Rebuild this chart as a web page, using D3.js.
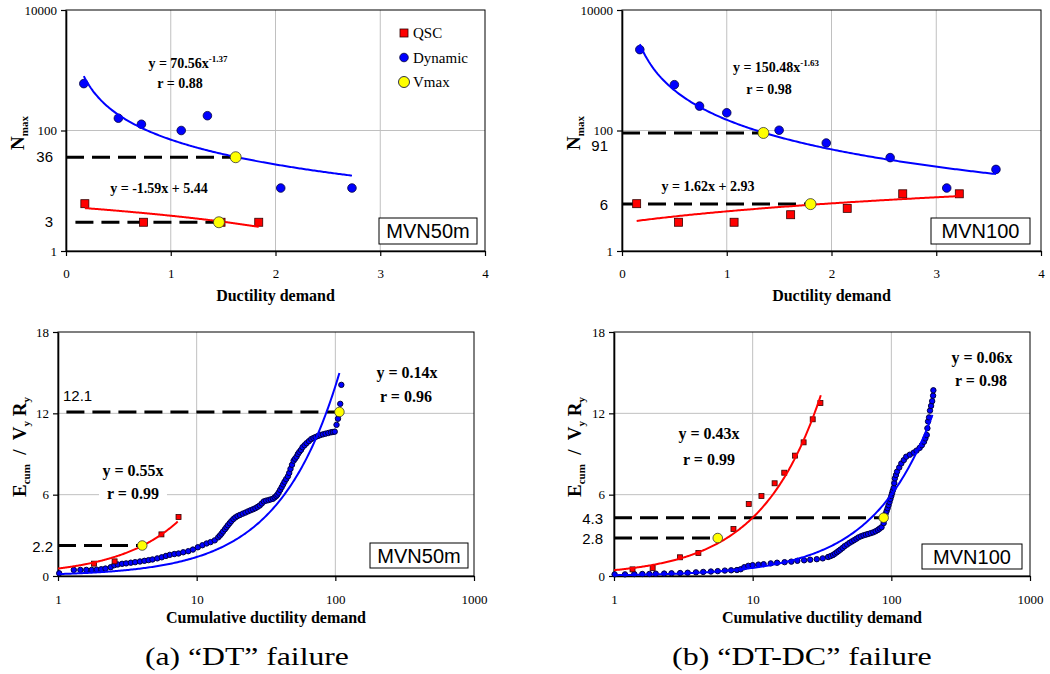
<!DOCTYPE html>
<html>
<head>
<meta charset="utf-8">
<script src="https://cdn.jsdelivr.net/npm/d3@7"></script>
<style>
body { margin: 0; background: #fff; }
svg text { font-family: "Liberation Serif", "Times New Roman", serif; }
</style>
</head>
<body>
<div id="container"></div>
<script>
// ---- tick values ----
var topXTicks = [0, 1, 2, 3, 4];
var topYTicks = [1, 100, 10000];
var botXTicks = [1, 10, 100, 1000];
var botYTicks = [0, 6, 12, 18];

// ---- (a) top : MVN50m ----
var aQscX = [0.18, 0.74, 1.48, 1.84];
var aQscY = [6.1, 3.0, 3.0, 3.0];
var aDynX = [0.17, 0.5, 0.72, 1.1, 1.35, 2.05, 2.73];
var aDynY = [600, 160, 127, 100, 176, 11.1, 11.1];
var aVmaxX = [1.62, 1.46];
var aVmaxY = [36, 3];
var aRefX0 = [0, 0.09];
var aRefLabels = ['36', '3'];

// ---- (b) top : MVN100 ----
var bQscX = [0.14, 0.54, 1.07, 1.61, 2.15, 2.68, 3.22];
var bQscY = [6.1, 3.0, 3.0, 4.0, 5.1, 8.9, 8.9];
var bDynX = [0.17, 0.5, 0.74, 1.0, 1.5, 1.95, 2.56, 3.1, 3.57];
var bDynY = [2200, 576, 254, 197, 101, 62, 35.5, 11.1, 22.6];
var bVmaxX = [1.35, 1.8];
var bVmaxY = [91, 6];
var bRefX0 = [0, 0];
var bRefLabels = ['91', '6'];

// ---- (a) bottom : MVN50m ----
var cQscX = [1.82, 2.56, 5.57, 7.4];
var cQscY = [0.91, 1.08, 3.07, 4.35];
var cDynX = [1.02, 1.3, 1.45, 1.6, 1.75, 1.9, 2.05, 2.2, 2.4, 2.55, 2.7, 2.9, 3.1, 3.35, 3.6, 3.9,
  4.2, 4.5, 4.8, 5.2, 5.6, 6.0, 6.4, 6.9, 7.4, 8.0, 8.7, 9.4, 10.2, 11.0, 11.8, 12.6, 13.5, 14.3,
  14.7, 15.1, 15.5, 16.0, 16.4, 16.8, 17.3, 17.8, 18.4, 19.0, 19.7, 20.5, 21.5, 22.5, 23.5, 24.5,
  25.5, 26.5, 27.5, 28.5, 29.5, 30.5, 31.7, 33.0, 34.2, 35.5, 36.5, 37.5, 38.2, 39.0, 40.0, 41.0,
  42.0, 43.0, 44.2, 45.5, 46.5, 47.5, 48.7, 50.0, 51.2, 52.5, 53.7, 55.0, 56.5, 58.0, 60.0, 62.0,
  64.5, 67.0, 69.5, 72.0, 75.0, 78.0, 81.5, 85.0, 89.0, 93.0, 96.0, 99.0, 102.0, 104.5,
  106.5, 108.5, 110.5];
var cDynY = [0.2, 0.45, 0.45, 0.45, 0.45, 0.47, 0.5, 0.55, 0.65, 0.8, 0.85, 0.9, 0.93, 0.98, 1.02, 1.07,
  1.12, 1.17, 1.22, 1.3, 1.38, 1.48, 1.56, 1.62, 1.66, 1.75, 1.83, 1.95, 2.12, 2.27, 2.4, 2.5, 2.63, 2.85,
  2.98, 3.12, 3.28, 3.45, 3.6, 3.74, 3.9, 4.05, 4.2, 4.32, 4.42, 4.5, 4.6, 4.68, 4.77, 4.85,
  4.92, 5.0, 5.1, 5.2, 5.35, 5.5, 5.56, 5.6, 5.65, 5.7, 5.8, 5.9, 6.0, 6.15, 6.35, 6.55,
  6.75, 6.95, 7.15, 7.35, 7.6, 7.9, 8.2, 8.5, 8.65, 8.8, 9.0, 9.15, 9.3, 9.5, 9.65, 9.8,
  9.95, 10.1, 10.18, 10.25, 10.33, 10.4, 10.45, 10.5, 10.55, 10.6, 10.62, 10.65, 11.15, 11.6,
  12.1, 12.7, 14.1];
var cVmaxX = [4.05, 107];
var cVmaxY = [2.25, 12.1];
var cRefX0 = [1, 1.15];
var cRefLabels = ['2.2', '12.1'];

// ---- (b) bottom : MVN100 ----
var dQscX = [1.36, 1.9, 2.99, 4.06, 7.27, 9.37, 11.57, 14.4, 16.9, 20.2, 23.3, 27.1, 30.8];
var dQscY = [0.49, 0.59, 1.38, 1.7, 3.47, 5.31, 5.9, 6.84, 7.62, 8.88, 9.86, 11.56, 12.76];
var dDynX = [1.01, 1.2, 1.4, 1.6, 1.8, 2.0, 2.3, 2.6, 3.0, 3.4, 3.9, 4.4, 5.0, 5.6, 6.3, 7.0, 7.7,
  8.2, 8.7, 9.3, 10.0, 11.0, 12.0, 13.5, 15.0, 17.0, 19.0, 21.0, 23.5, 26.0, 29.0, 32.0, 35.0,
  36.5, 38.0, 39.2, 40.5, 41.7, 43.0, 44.5, 46.0, 48.0, 50.0, 52.0, 54.0, 56.0, 58.0, 60.5, 63.0,
  65.5, 68.0, 71.0, 74.0, 77.0, 80.0, 82.5, 85.0, 88.0, 89.5, 91.0, 92.5, 94.0, 95.5, 97.0,
  98.5, 100.0, 101.2, 102.5, 104.0, 105.0, 106.0, 108.0, 110.0, 114.0, 118.0, 123.0, 128.0, 136.0,
  145.0, 152.0, 160.0, 166.0, 172.0, 176.0, 180.0, 182.0, 184.0, 187.0, 190.0,
  193.5, 197.0, 200.0, 201.0];
var dDynY = [0.12, 0.12, 0.14, 0.15, 0.15, 0.17, 0.18, 0.2, 0.22, 0.24, 0.27, 0.3, 0.33, 0.36, 0.4, 0.42, 0.44,
  0.5, 0.65, 0.75, 0.8, 0.84, 0.87, 0.93, 0.98, 1.02, 1.06, 1.12, 1.16, 1.2, 1.24, 1.3, 1.4,
  1.47, 1.55, 1.65, 1.75, 1.85, 1.95, 2.07, 2.2, 2.32, 2.45, 2.55, 2.65, 2.75, 2.85, 2.93, 3.0,
  3.05, 3.1, 3.16, 3.22, 3.3, 3.4, 3.5, 3.6, 3.9, 4.2, 4.6, 4.8, 5.0, 5.22, 5.45,
  5.68, 5.9, 6.1, 6.3, 6.5, 6.85, 7.2, 7.45, 7.7, 8.0, 8.3, 8.55, 8.8, 8.95,
  9.1, 9.25, 9.45, 9.65, 9.9, 10.15, 10.4, 10.9, 11.4, 11.7, 12.2,
  12.55, 12.9, 13.3, 13.7];
var dVmaxX = [5.6, 88];
var dVmaxY = [2.8, 4.3];
var dRefX0 = [1, 1];
var dRefLabels = ['2.8', '4.3'];

var captions = ['(a) \u201CDT\u201D failure', '(b) \u201CDT-DC\u201D failure'];

var W = 1050, H = 674;
var svg = d3.select('#container').append('svg')
  .attr('width', W).attr('height', H);

function mkPts(xs, ys) {
  return xs.map(function (x, i) { return {x: x, y: ys[i]}; });
}

function drawPanel(p) {
  var x = p.xLog ? d3.scaleLog().domain(p.xDom).range([p.left, p.right])
                 : d3.scaleLinear().domain(p.xDom).range([p.left, p.right]);
  var y = p.yLog ? d3.scaleLog().domain(p.yDom).range([p.bottom, p.top])
                 : d3.scaleLinear().domain(p.yDom).range([p.bottom, p.top]);
  var g = svg.append('g');

  // grid
  g.selectAll('.vg').data(p.xGrid).enter().append('line')
    .attr('x1', function (d) { return x(d); }).attr('x2', function (d) { return x(d); })
    .attr('y1', p.top).attr('y2', p.bottom)
    .attr('stroke', '#c0c0c0').attr('stroke-width', 1);
  g.selectAll('.hg').data(p.yGrid).enter().append('line')
    .attr('y1', function (d) { return y(d); }).attr('y2', function (d) { return y(d); })
    .attr('x1', p.left).attr('x2', p.right)
    .attr('stroke', '#c0c0c0').attr('stroke-width', 1);

  g.append('rect')
    .attr('x', p.left).attr('y', p.top)
    .attr('width', p.right - p.left).attr('height', p.bottom - p.top)
    .attr('fill', 'none').attr('stroke', '#000').attr('stroke-width', 1);

  // axes
  var ax = g.append('g').attr('transform', 'translate(0,' + p.bottom + ')')
    .call(d3.axisBottom(x).tickValues(p.xTicks).tickSize(5).tickSizeOuter(0).tickFormat(d3.format('d')));
  var ay = g.append('g').attr('transform', 'translate(' + p.left + ',0)')
    .call(d3.axisLeft(y).tickValues(p.yTicks).tickSize(5).tickSizeOuter(0).tickFormat(d3.format('d')));
  [ax, ay].forEach(function (a) {
    a.select('.domain').attr('stroke', '#000').attr('stroke-width', 1.6);
    a.selectAll('.tick line').attr('stroke', '#000').attr('stroke-width', 1.2);
    a.selectAll('.tick text').attr('fill', '#000')
      .style('font-family', '"Liberation Serif", serif').style('font-size', '13px');
  });
  ax.selectAll('.tick text').attr('dy', '0').attr('y', p.xTickY);
  ay.selectAll('.tick text').attr('x', -9);

  // annotations (white boxes)
  p.notes.forEach(function (n) {
    var t = g.append('text').attr('x', n.x).attr('y', n.y)
      .attr('text-anchor', 'middle').attr('font-weight', 'bold')
      .attr('font-size', p.noteSize + 'px');
    t.append('tspan').text(n.t);
    if (n.sup) t.append('tspan').attr('dy', -6).attr('font-size', (p.noteSize - 5) + 'px').text(n.sup);
    if (p.noteBg) {
      var b = t.node().getBBox();
      g.insert('rect', function () { return t.node(); })
        .attr('x', b.x - 8).attr('y', b.y + 1).attr('width', b.width + 16).attr('height', b.height - 2)
        .attr('fill', '#fff');
    }
  });

  // dashed reference lines
  var refs = p.vmaxX.map(function (vx, i) { return {x0: p.refX0[i], x1: vx, y: p.vmaxY[i], lab: p.refLabels[i]}; });
  g.selectAll('.ref').data(refs).enter().append('line')
    .attr('x1', function (d) { return x(d.x0); }).attr('x2', function (d) { return x(d.x1); })
    .attr('y1', function (d) { return y(d.y); }).attr('y2', function (d) { return y(d.y); })
    .attr('stroke', '#000').attr('stroke-width', 3).attr('stroke-dasharray', '18,8');
  refs.forEach(function (d, i) {
    var lp = p.refLabPos[i];
    g.append('text').attr('x', lp[0]).attr('y', y(d.y) + lp[1])
      .attr('text-anchor', lp[2])
      .style('font-family', '"Liberation Sans", Arial, sans-serif').style('font-size', '15px')
      .text(d.lab);
  });

  // points
  var q = mkPts(p.qscX, p.qscY), dyn = mkPts(p.dynX, p.dynY);
  g.selectAll('.dyn').data(dyn).enter().append('circle')
    .attr('cx', function (d) { return x(d.x); }).attr('cy', function (d) { return y(d.y); })
    .attr('r', p.dynR).attr('fill', '#0000ff').attr('stroke', '#000040').attr('stroke-width', p.dynSw);
  g.selectAll('.qsc').data(q).enter().append('rect')
    .attr('x', function (d) { return x(d.x) - p.sq / 2; }).attr('y', function (d) { return y(d.y) - p.sq / 2; })
    .attr('width', p.sq).attr('height', p.sq)
    .attr('fill', '#ff0000').attr('stroke', '#330000').attr('stroke-width', 0.8);

  // fitted curves
  p.fits.forEach(function (f) {
    var xs = p.xLog ? d3.range(0, 201).map(function (i) { return f.r[0] * Math.pow(f.r[1] / f.r[0], i / 200); })
                    : d3.range(0, 201).map(function (i) { return f.r[0] + (f.r[1] - f.r[0]) * i / 200; });
    var line = d3.line().x(function (v) { return x(v); }).y(function (v) { return y(f.fn(v)); });
    g.append('path').datum(xs).attr('d', line)
      .attr('fill', 'none').attr('stroke', f.c).attr('stroke-width', 2);
  });

  // Vmax
  g.selectAll('.vmax').data(mkPts(p.vmaxX, p.vmaxY)).enter().append('circle')
    .attr('cx', function (d) { return x(d.x); }).attr('cy', function (d) { return y(d.y); })
    .attr('r', p.vR).attr('fill', '#ffff00').attr('stroke', '#333').attr('stroke-width', 0.8);

  // label box
  g.append('rect').attr('x', p.box[0]).attr('y', p.box[1]).attr('width', p.box[2]).attr('height', p.box[3])
    .attr('fill', '#fff').attr('stroke', '#000').attr('stroke-width', 1);
  g.append('text').attr('x', p.box[0] + p.box[2] / 2).attr('y', p.box[1] + p.box[3] / 2 + 7)
    .attr('text-anchor', 'middle')
    .style('font-family', '"Liberation Sans", Arial, sans-serif').style('font-size', '20px')
    .text(p.boxText);

  // axis titles
  g.append('text').attr('x', (p.left + p.right) / 2).attr('y', p.xTitleY)
    .attr('text-anchor', 'middle').attr('font-weight', 'bold').attr('font-size', p.xTitleSize + 'px')
    .text(p.xTitle);
  var yt = g.append('text').attr('transform', 'translate(' + p.yTitlePos[0] + ',' + p.yTitlePos[1] + ') rotate(-90)')
    .attr('text-anchor', 'middle').attr('font-weight', 'bold').style('white-space', 'pre');
  p.yTitle.forEach(function (s) {
    yt.append('tspan').attr('font-size', s[1] ? '11px' : '19px')
      .attr('dy', s[2]).text(s[0]);
  });

  return {x: x, y: y, g: g};
}

var nTitle = [['N', 0, 0], ['max', 1, 4]];
var eTitle = [['E', 0, 0], ['cum', 1, 4], ['  /  V', 0, -4], ['y', 1, 4], [' R', 0, -4], ['y', 1, 4]];

var A = drawPanel({
  left: 66, right: 485, top: 10, bottom: 251, xLog: false, yLog: true,
  xDom: [0, 4], yDom: [1, 10000], xTicks: topXTicks, yTicks: topYTicks,
  xGrid: [1, 2, 3], yGrid: [100], xTickY: 27,
  qscX: aQscX, qscY: aQscY, dynX: aDynX, dynY: aDynY, vmaxX: aVmaxX, vmaxY: aVmaxY,
  refX0: aRefX0, refLabels: aRefLabels, refLabPos: [[53, 5, 'end'], [53, 5, 'end']],
  dynR: 4.3, dynSw: 0.8, sq: 8, vR: 5.5,
  fits: [
    {c: '#0000ff', r: [0.17, 2.73], fn: function (v) { return 70.56 * Math.pow(v, -1.37); }},
    {c: '#ff0000', r: [0.18, 1.84], fn: function (v) { return -1.59 * v + 5.44; }}
  ],
  notes: [{x: 188, y: 68, t: 'y = 70.56x', sup: '-1.37'}, {x: 180, y: 88, t: 'r = 0.88'},
          {x: 159, y: 193, t: 'y = -1.59x + 5.44'}],
  noteSize: 14, noteBg: false,
  box: [379, 218, 98, 26], boxText: 'MVN50m',
  xTitle: 'Ductility demand', xTitleY: 301, xTitleSize: 16,
  yTitle: nTitle, yTitlePos: [24, 133]
});

// legend in panel (a)
var legItems = [['QSC', 'sq', '#ff0000'], ['Dynamic', 'c', '#0000ff'], ['Vmax', 'v', '#ffff00']];
legItems.forEach(function (it, i) {
  var ly = 33 + i * 24.5;
  if (it[1] === 'sq') {
    A.g.append('rect').attr('x', 400).attr('y', ly - 4).attr('width', 8).attr('height', 8)
      .attr('fill', it[2]).attr('stroke', '#330000').attr('stroke-width', 0.8);
  } else {
    A.g.append('circle').attr('cx', 404).attr('cy', ly).attr('r', it[1] === 'v' ? 5.5 : 4.3)
      .attr('fill', it[2]).attr('stroke', '#000033').attr('stroke-width', 0.8);
  }
  A.g.append('text').attr('x', 413).attr('y', ly + 5).attr('font-size', '15px').text(it[0]);
});

drawPanel({
  left: 622, right: 1041, top: 10, bottom: 251, xLog: false, yLog: true,
  xDom: [0, 4], yDom: [1, 10000], xTicks: topXTicks, yTicks: topYTicks,
  xGrid: [1, 2, 3], yGrid: [100], xTickY: 27,
  qscX: bQscX, qscY: bQscY, dynX: bDynX, dynY: bDynY, vmaxX: bVmaxX, vmaxY: bVmaxY,
  refX0: bRefX0, refLabels: bRefLabels, refLabPos: [[608, 18, 'end'], [608, 6, 'end']],
  dynR: 4.3, dynSw: 0.8, sq: 8, vR: 5.5,
  fits: [
    {c: '#0000ff', r: [0.17, 3.57], fn: function (v) { return 150.48 * Math.pow(v, -1.63); }},
    {c: '#ff0000', r: [0.14, 3.22], fn: function (v) { return 1.62 * v + 2.93; }}
  ],
  notes: [{x: 776, y: 72, t: 'y = 150.48x', sup: '-1.63'}, {x: 769, y: 94, t: 'r = 0.98'},
          {x: 708, y: 191, t: 'y = 1.62x + 2.93'}],
  noteSize: 14, noteBg: false,
  box: [931, 218, 99, 26], boxText: 'MVN100',
  xTitle: 'Ductility demand', xTitleY: 301, xTitleSize: 16,
  yTitle: nTitle, yTitlePos: [580, 133]
});

drawPanel({
  left: 58, right: 474, top: 332, bottom: 576, xLog: true, yLog: false,
  xDom: [1, 1000], yDom: [0, 18], xTicks: botXTicks, yTicks: botYTicks,
  xGrid: [10, 100], yGrid: [6, 12], xTickY: 28,
  qscX: cQscX, qscY: cQscY, dynX: cDynX, dynY: cDynY, vmaxX: cVmaxX, vmaxY: cVmaxY,
  refX0: cRefX0, refLabels: cRefLabels, refLabPos: [[53, 6, 'end'], [63, -11, 'start']],
  dynR: 2.7, dynSw: 1, sq: 5, vR: 4.8,
  fits: [
    {c: '#0000ff', r: [1, 107], fn: function (v) { return 0.14 * v; }},
    {c: '#ff0000', r: [1, 7.3], fn: function (v) { return 0.55 * v; }}
  ],
  notes: [{x: 407, y: 378, t: 'y = 0.14x'}, {x: 406, y: 402, t: 'r = 0.96'},
          {x: 133, y: 476, t: 'y = 0.55x'}, {x: 133, y: 499, t: 'r = 0.99'}],
  noteSize: 16, noteBg: true,
  box: [370, 543, 98, 25], boxText: 'MVN50m',
  xTitle: 'Cumulative ductility demand', xTitleY: 623, xTitleSize: 16,
  yTitle: eTitle, yTitlePos: [26, 447]
});

drawPanel({
  left: 614, right: 1030, top: 332, bottom: 576, xLog: true, yLog: false,
  xDom: [1, 1000], yDom: [0, 18], xTicks: botXTicks, yTicks: botYTicks,
  xGrid: [10, 100], yGrid: [6, 12], xTickY: 28,
  qscX: dQscX, qscY: dQscY, dynX: dDynX, dynY: dDynY, vmaxX: dVmaxX, vmaxY: dVmaxY,
  refX0: dRefX0, refLabels: dRefLabels, refLabPos: [[603, 6, 'end'], [603, 6, 'end']],
  dynR: 2.7, dynSw: 1, sq: 5, vR: 4.8,
  fits: [
    {c: '#0000ff', r: [1, 198], fn: function (v) { return 0.06 * v; }},
    {c: '#ff0000', r: [1, 31], fn: function (v) { return 0.43 * v; }}
  ],
  notes: [{x: 982, y: 363, t: 'y = 0.06x'}, {x: 981, y: 386, t: 'r = 0.98'},
          {x: 709, y: 439, t: 'y = 0.43x'}, {x: 709, y: 465, t: 'r = 0.99'}],
  noteSize: 16, noteBg: true,
  box: [922, 544, 100, 25], boxText: 'MVN100',
  xTitle: 'Cumulative ductility demand', xTitleY: 623, xTitleSize: 16,
  yTitle: eTitle, yTitlePos: [581, 447]
});

// captions: glyphs stretched horizontally like the original
var captionX = [145, 672];
var captionW = [204, 260];
captions.forEach(function (c, i) {
  var cg = svg.append('g');
  var t = cg.append('text').attr('x', 0).attr('y', 0).attr('font-size', '25px').text(c);
  var sx = captionW[i] / t.node().getComputedTextLength();
  cg.attr('transform', 'translate(' + captionX[i] + ',665) scale(' + sx + ',1)');
});
</script>
</body>
</html>
